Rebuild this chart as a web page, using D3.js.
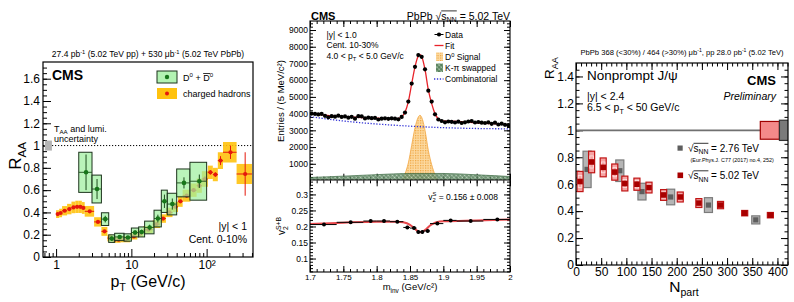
<!DOCTYPE html>
<html>
<head>
<meta charset="utf-8">
<script src="https://cdn.jsdelivr.net/npm/d3@7"></script>
<style>
body { margin: 0; background: #fff; }
</style>
</head>
<body>
<svg id="fig" width="794" height="302"></svg>
<script>
var FONT = '"Liberation Sans", Arial, Helvetica, sans-serif';

// ---- left panel: RAA vs pT, charged hadrons
var chLo = [1.0, 1.1, 1.2, 1.4, 1.6, 1.8, 2.0, 2.2, 2.4, 3.2, 4.0, 4.8, 5.6, 6.4, 7.2, 9.6, 12.0, 14.4, 19.2, 24.0, 28.8, 35.2, 41.6, 48.0, 60.8, 73.6, 86.4, 103.6, 120.8, 140.8, 165.0, 250.0];
var chHi = [1.1, 1.2, 1.4, 1.6, 1.8, 2.0, 2.2, 2.4, 3.2, 4.0, 4.8, 5.6, 6.4, 7.2, 9.6, 12.0, 14.4, 19.2, 24.0, 28.8, 35.2, 41.6, 48.0, 60.8, 73.6, 86.4, 103.6, 120.8, 140.8, 165.0, 250.0, 400.0];
var chPt = [1.05, 1.15, 1.3, 1.5, 1.7, 1.9, 2.1, 2.3, 2.8, 3.6, 4.4, 5.2, 6.0, 6.8, 8.4, 10.8, 13.2, 16.8, 21.6, 26.4, 32.0, 38.4, 44.8, 54.4, 67.2, 80.0, 95.0, 112.2, 130.8, 152.9, 207.5, 325.0];
var chRaa = [0.385, 0.395, 0.415, 0.43, 0.445, 0.45, 0.45, 0.44, 0.41, 0.315, 0.23, 0.17, 0.155, 0.155, 0.16, 0.185, 0.21, 0.245, 0.295, 0.345, 0.40, 0.45, 0.50, 0.55, 0.60, 0.64, 0.70, 0.76, 0.74, 0.865, 0.94, 0.745];
var chStat = [0.003, 0.003, 0.003, 0.003, 0.003, 0.003, 0.003, 0.004, 0.004, 0.004, 0.004, 0.004, 0.004, 0.004, 0.004, 0.005, 0.005, 0.006, 0.007, 0.008, 0.01, 0.012, 0.014, 0.016, 0.018, 0.02, 0.025, 0.02, 0.02, 0.04, 0.06, 0.195];
var chSys = [0.035, 0.038, 0.042, 0.047, 0.052, 0.055, 0.055, 0.053, 0.048, 0.042, 0.04, 0.03, 0.028, 0.028, 0.028, 0.028, 0.03, 0.032, 0.035, 0.038, 0.042, 0.046, 0.05, 0.054, 0.06, 0.064, 0.07, 0.06, 0.06, 0.075, 0.092, 0.09];

// D0 mesons
var dLo = [2, 3, 4, 5, 6, 8, 10, 12.5, 15, 20, 25, 30, 40, 60];
var dHi = [3, 4, 5, 6, 8, 10, 12.5, 15, 20, 25, 30, 40, 60, 100];
var dPt = [2.5, 3.5, 4.5, 5.5, 7, 9, 11.2, 13.7, 17.5, 22.5, 27.5, 35, 50, 80];
var dRaa = [0.76, 0.61, 0.34, 0.165, 0.18, 0.175, 0.22, 0.225, 0.265, 0.345, 0.50, 0.475, 0.665, 0.68];
var dStat = [0.16, 0.09, 0.03, 0.02, 0.015, 0.015, 0.02, 0.02, 0.025, 0.035, 0.06, 0.05, 0.05, 0.06];
var dSys = [0.18, 0.125, 0.057, 0.034, 0.033, 0.033, 0.04, 0.045, 0.057, 0.075, 0.10, 0.097, 0.125, 0.17];
var taaBox = [0.71, 0.88, 0.045];   // pT from, pT to, half height

var leftYTicks = [0, 0.2, 0.4, 0.6, 0.8, 1, 1.2, 1.4, 1.6];
var leftXTicks = [1, 10, 100];
var leftXLabels = ['1', '10', '10\u00b2'];

// ---- middle panel: D0 invariant mass fit and v2
var massBins = d3.range(1.7025, 2.0, 0.005);
var entries = [4000, 3980, 3950, 3980, 3870, 3780, 3850, 3820, 3880, 3800,
               3830, 3760, 3810, 3700, 3850, 3840, 3710, 3760, 3730, 3740,
               3650, 3700, 3720, 3690, 3720, 3700, 3660, 3800, 4060, 4720,
               5800, 6800, 7500, 7400, 6650, 5370, 4720, 3960, 3650, 3560,
               3480, 3530, 3510, 3470, 3520, 3440, 3480, 3530, 3560, 3470,
               3500, 3460, 3440, 3480, 3390, 3460, 3350, 3400, 3330, 3310];
var fitMass = [1.70, 1.75, 1.80, 1.82, 1.83, 1.8375, 1.8425, 1.8475, 1.8525, 1.8575, 1.8625, 1.865, 1.8675, 1.8725, 1.8775, 1.8825, 1.8875, 1.8925, 1.8975, 1.92, 1.95, 1.975, 2.00];
var fitVal = [4000, 3820, 3730, 3700, 3700, 3820, 4080, 4720, 5780, 6800, 7450, 7520, 7420, 6640, 5420, 4600, 4000, 3680, 3570, 3540, 3450, 3400, 3330];
var sigMass = [1.835, 1.84, 1.8425, 1.8475, 1.8525, 1.8575, 1.8625, 1.865, 1.8675, 1.8725, 1.8775, 1.8825, 1.8875, 1.8925, 1.895];
var sigVal = [0, 150, 400, 1050, 2100, 3150, 3800, 3900, 3780, 3000, 1800, 950, 350, 30, 0];
var bkgMass = [1.70, 1.75, 1.80, 1.85, 1.90, 1.95, 2.00];
var combVal = [3820, 3560, 3380, 3250, 3160, 3110, 3090];
var swapVal = [180, 260, 350, 420, 420, 340, 240];

var v2Lo = [1.70, 1.74, 1.78, 1.80, 1.82, 1.84, 1.85, 1.86, 1.865, 1.87, 1.88, 1.90, 1.92, 1.96];
var v2Hi = [1.74, 1.78, 1.80, 1.82, 1.84, 1.85, 1.86, 1.865, 1.87, 1.88, 1.90, 1.92, 1.96, 2.00];
var v2Mass = [1.721, 1.761, 1.791, 1.811, 1.831, 1.846, 1.856, 1.8625, 1.8685, 1.8765, 1.891, 1.911, 1.941, 1.981];
var v2Val = [0.206, 0.213, 0.217, 0.217, 0.215, 0.197, 0.195, 0.183, 0.183, 0.186, 0.209, 0.219, 0.217, 0.222];
var v2Err = [0.003, 0.003, 0.004, 0.004, 0.004, 0.005, 0.005, 0.006, 0.006, 0.005, 0.004, 0.004, 0.003, 0.003];
var v2FitMass = [1.70, 1.75, 1.80, 1.83, 1.84, 1.85, 1.855, 1.86, 1.865, 1.87, 1.875, 1.88, 1.885, 1.89, 1.90, 1.95, 2.00];
var v2FitVal = [0.208, 0.212, 0.215, 0.215, 0.213, 0.205, 0.197, 0.188, 0.182, 0.185, 0.193, 0.203, 0.209, 0.213, 0.216, 0.219, 0.222];

// ---- right panel: nonprompt J/psi RAA vs Npart
var np502 = [8, 31, 54, 77, 97, 121, 145, 174, 207, 244, 287, 335, 386];
var raa502 = [0.62, 0.765, 0.725, 0.69, 0.605, 0.60, 0.575, 0.52, 0.505, 0.46, 0.445, 0.385, 0.37];
var sys502 = [0.075, 0.08, 0.07, 0.06, 0.055, 0.045, 0.04, 0.04, 0.037, 0.033, 0.027, 0.02, 0.02];
var stat502 = [0.045, 0.045, 0.04, 0.035, 0.03, 0.028, 0.024, 0.022, 0.02, 0.018, 0.014, 0.011, 0.011];
var np276 = [22, 87, 131, 188, 263, 357];
var raa276 = [0.71, 0.70, 0.545, 0.505, 0.445, 0.335];
var sys276 = [0.135, 0.08, 0.062, 0.058, 0.055, 0.03];
var globalUnc = [0.066, 0.075];   // 5.02 TeV, 2.76 TeV

var svg = d3.select('#fig');
var defs = svg.append('defs');

function clip(id, x, y, w, h) {
    defs.append('clipPath').attr('id', id)
        .append('rect').attr('x', x).attr('y', y).attr('width', w).attr('height', h);
}

function addAxis(parent, orient, scale, majors, minors, len, fmt, size, pad, tx, ty) {
    var make = {left: d3.axisLeft, right: d3.axisRight, top: d3.axisTop, bottom: d3.axisBottom}[orient];
    var g = parent.append('g').attr('transform', 'translate(' + tx + ',' + ty + ')');
    g.append('g').call(make(scale).tickValues(minors).tickSizeInner(-len / 2).tickSizeOuter(0).tickFormat(''));
    g.append('g').call(make(scale).tickValues(majors).tickSizeInner(-len).tickSizeOuter(0)
        .tickPadding(pad || 3).tickFormat(fmt || ''));
    g.selectAll('.domain').remove();
    g.selectAll('line').attr('stroke', '#000');
    g.selectAll('text').attr('font-family', FONT).attr('font-size', size).attr('fill', '#000');
    return g;
}

function rich(parent, x, y, size, parts, anchor) {
    var t = parent.append('text').attr('x', x).attr('y', y)
        .attr('font-family', FONT).attr('font-size', size)
        .attr('text-anchor', anchor || 'start').attr('fill', '#000');
    var shift = 0;
    parts.forEach(function (p) {
        var s = typeof p === 'string' ? {t: p} : p;
        var off = s.sup ? -0.4 * size : s.sub ? 0.28 * size : 0;
        var sp = t.append('tspan').attr('dy', off - shift).text(s.t);
        if (s.sup || s.sub) sp.attr('font-size', size * 0.68);
        if (s.dx) sp.attr('dx', s.dx);
        if (s.cls) sp.attr('class', s.cls);
        shift = off;
    });
    return t;
}

function overline(parent, t, c1, c2, y) {
    var a = t.select('.' + c1).node().getBBox(),
        b = t.select('.' + c2).node().getBBox();
    parent.append('line').attr('x1', a.x).attr('x2', b.x + b.width)
        .attr('y1', y).attr('y2', y).attr('stroke', '#000').attr('stroke-width', 0.8);
}

function fmtR(d) {
    return d === 0 ? '0' : d === 1 ? '1' : d3.format('.1f')(d);
}

// ================= LEFT PANEL =================
var L = svg.append('g');
var xl = d3.scaleLog().domain([0.67, 413]).range([43, 253]);
var yl = d3.scaleLinear().domain([0, 1.75]).range([257, 62]);
clip('clipL', 43, 62, 210, 195);

var lMinX = [0.7, 0.8, 0.9].concat(d3.range(2, 10), d3.range(20, 100, 10), [200, 300, 400]);
addAxis(L, 'bottom', xl, leftXTicks, lMinX, 8, function (d, i) { return leftXLabels[i]; }, 12, 3, 0, 257);
addAxis(L, 'left', yl, leftYTicks, d3.range(0, 1.75, 0.05), 8, fmtR, 12, 3, 43, 0);

var LP = L.append('g').attr('clip-path', 'url(#clipL)');

// unity line
LP.append('line').attr('x1', 43).attr('x2', 253).attr('y1', yl(1)).attr('y2', yl(1))
    .attr('stroke', '#000').attr('stroke-width', 1).attr('stroke-dasharray', '1.2,1.8');

// T_AA + lumi box
LP.append('rect').attr('x', xl(taaBox[0])).attr('width', xl(taaBox[1]) - xl(taaBox[0]))
    .attr('y', yl(1 + taaBox[2])).attr('height', yl(1 - taaBox[2]) - yl(1 + taaBox[2]))
    .attr('fill', '#b4b4b4');

// charged hadron boxes
chRaa.forEach(function (r, i) {
    LP.append('rect').attr('x', xl(chLo[i])).attr('width', xl(chHi[i]) - xl(chLo[i]))
        .attr('y', yl(r + chSys[i])).attr('height', yl(r - chSys[i]) - yl(r + chSys[i]))
        .attr('fill', '#ffc20e').attr('opacity', 0.9);
});
// charged hadron points
chRaa.forEach(function (r, i) {
    LP.append('line').attr('x1', xl(chLo[i])).attr('x2', xl(chHi[i]))
        .attr('y1', yl(r)).attr('y2', yl(r)).attr('stroke', '#e5180c').attr('stroke-width', 1);
    LP.append('line').attr('x1', xl(chPt[i])).attr('x2', xl(chPt[i]))
        .attr('y1', yl(r + chStat[i])).attr('y2', yl(r - chStat[i])).attr('stroke', '#e5180c').attr('stroke-width', 1);
    LP.append('circle').attr('cx', xl(chPt[i])).attr('cy', yl(r)).attr('r', 2.1).attr('fill', '#e5180c');
});
// D0 boxes
dRaa.forEach(function (r, i) {
    LP.append('rect').attr('x', xl(dLo[i])).attr('width', xl(dHi[i]) - xl(dLo[i]))
        .attr('y', yl(r + dSys[i])).attr('height', yl(r - dSys[i]) - yl(r + dSys[i]))
        .attr('fill', 'rgba(160,240,160,0.72)').attr('stroke', '#1c331c').attr('stroke-width', 1);
});
dRaa.forEach(function (r, i) {
    LP.append('line').attr('x1', xl(dLo[i])).attr('x2', xl(dHi[i]))
        .attr('y1', yl(r)).attr('y2', yl(r)).attr('stroke', '#1d4d1d').attr('stroke-width', 0.9);
    LP.append('line').attr('x1', xl(dPt[i])).attr('x2', xl(dPt[i]))
        .attr('y1', yl(r + dStat[i])).attr('y2', yl(r - dStat[i])).attr('stroke', '#1d4d1d').attr('stroke-width', 1);
    LP.append('circle').attr('cx', xl(dPt[i])).attr('cy', yl(r)).attr('r', 2.3).attr('fill', '#17761a');
});

L.append('rect').attr('x', 43).attr('y', 62).attr('width', 210).attr('height', 195)
    .attr('fill', 'none').attr('stroke', '#000').attr('stroke-width', 1.2);

rich(L, 148, 57, 8.5, ['27.4 pb', {t: '-1', sup: 1}, ' (5.02 TeV pp) + 530 \u03bcb', {t: '-1', sup: 1}, ' (5.02 TeV PbPb)'], 'middle');
L.append('text').attr('x', 52).attr('y', 80).attr('font-family', FONT).attr('font-size', 14)
    .attr('font-weight', 'bold').text('CMS');

// legend
L.append('rect').attr('x', 157).attr('y', 71).attr('width', 20).attr('height', 12)
    .attr('fill', 'rgba(160,240,160,0.8)').attr('stroke', '#1c331c');
L.append('circle').attr('cx', 167).attr('cy', 77).attr('r', 2.2).attr('fill', '#17761a');
var dLeg = rich(L, 183, 80.5, 9, [{t: 'D', cls: 'd1'}, {t: '0', sup: 1}, ' + ', {t: 'D', cls: 'd2'}, {t: '0', sup: 1}]);
overline(L, dLeg, 'd2', 'd2', 73.5);
L.append('rect').attr('x', 157).attr('y', 88).attr('width', 20).attr('height', 11).attr('fill', '#ffc20e');
L.append('circle').attr('cx', 167).attr('cy', 93.5).attr('r', 2).attr('fill', '#e5180c');
rich(L, 183, 97, 9, ['charged hadrons']);

rich(L, 54, 131.5, 9, ['T', {t: 'AA', sub: 1}, ' and lumi.']);
rich(L, 54, 142, 9, ['uncertainty']);
rich(L, 247, 230, 10.5, ['|y| < 1'], 'end');
rich(L, 247, 243, 10.5, ['Cent. 0-10%'], 'end');

rich(L, 148, 287, 16, ['p', {t: 'T', sub: 1}, ' (GeV/c)'], 'middle');
var rl = L.append('g').attr('transform', 'translate(21,156) rotate(-90)');
rich(rl, 0, 0, 17, ['R', {t: 'AA', sub: 1}], 'middle');

// ================= MIDDLE PANEL =================
var M = svg.append('g');
var xm = d3.scaleLinear().domain([1.7, 2.0]).range([310, 510]);
var ym = d3.scaleLinear().domain([0, 9540]).range([180.5, 21]);
var yv = d3.scaleLinear().domain([0.058, 0.345]).range([272, 180]);
clip('clipMU', 310, 21, 200, 159);
clip('clipMD', 310, 180, 200, 92);

var sp = defs.append('pattern').attr('id', 'sigPat').attr('width', 2.5).attr('height', 2.5)
    .attr('patternUnits', 'userSpaceOnUse');
sp.append('rect').attr('width', 2.5).attr('height', 2.5).attr('fill', '#fcd9a0');
sp.append('rect').attr('width', 1.2).attr('height', 1.2).attr('fill', '#efa43c');
var wp = defs.append('pattern').attr('id', 'swPat').attr('width', 3).attr('height', 3)
    .attr('patternUnits', 'userSpaceOnUse').attr('patternTransform', 'rotate(45)');
wp.append('rect').attr('width', 3).attr('height', 3).attr('fill', '#b9d0b9');
wp.append('line').attr('x1', 0).attr('x2', 3).attr('y1', 1).attr('y2', 1).attr('stroke', '#2c5e34').attr('stroke-width', 1);
wp.append('line').attr('x1', 1).attr('x2', 1).attr('y1', 0).attr('y2', 3).attr('stroke', '#2c5e34').attr('stroke-width', 0.8);

var mTicks = [1.7, 1.75, 1.8, 1.85, 1.9, 1.95, 2.0];
var mMinor = d3.range(1.7, 2.0001, 0.01);
var fmtM = d3.format('~g');
addAxis(M, 'bottom', xm, mTicks, mMinor, 6, fmtM, 8, 2, 0, 272);
addAxis(M, 'top', xm, mTicks, mMinor, 6, null, 8, 3, 0, 180.3);
addAxis(M, 'bottom', xm, mTicks, mMinor, 6, null, 8, 3, 0, 179.7);
addAxis(M, 'top', xm, mTicks, mMinor, 6, null, 8, 3, 0, 21);
addAxis(M, 'left', ym, d3.range(1000, 9001, 1000), d3.range(200, 9540, 200), 6, d3.format('d'), 8.5, 2, 310, 0);
addAxis(M, 'right', ym, d3.range(1000, 9001, 1000), d3.range(200, 9540, 200), 6, null, 8, 3, 510, 0);
addAxis(M, 'left', yv, [0.1, 0.15, 0.2, 0.25, 0.3], d3.range(0.06, 0.345, 0.01), 6, d3.format('~g'), 8.5, 2, 310, 0);
addAxis(M, 'right', yv, [0.1, 0.15, 0.2, 0.25, 0.3], d3.range(0.06, 0.345, 0.01), 6, null, 8, 3, 510, 0);

var MU = M.append('g').attr('clip-path', 'url(#clipMU)');
var MD = M.append('g').attr('clip-path', 'url(#clipMD)');

var areaSig = d3.area().x(function (d) { return xm(d[0]); }).y0(ym(0)).y1(function (d) { return ym(d[1]); })
    .curve(d3.curveMonotoneX);
MU.append('path').datum(d3.zip(sigMass, sigVal)).attr('d', areaSig)
    .attr('fill', 'url(#sigPat)').attr('stroke', '#f2a640').attr('stroke-width', 0.8);
MU.append('path').datum(d3.zip(bkgMass, swapVal)).attr('d', areaSig)
    .attr('fill', 'url(#swPat)').attr('opacity', 0.85).attr('stroke', '#2c5e34').attr('stroke-width', 0.8);

var lineM = d3.line().x(function (d) { return xm(d[0]); }).y(function (d) { return ym(d[1]); })
    .curve(d3.curveMonotoneX);
MU.append('path').datum(d3.zip(bkgMass, combVal)).attr('d', lineM).attr('fill', 'none')
    .attr('stroke', '#3636d6').attr('stroke-width', 1.3).attr('stroke-dasharray', '1.3,1.6');
MU.append('path').datum(d3.zip(fitMass, fitVal)).attr('d', lineM).attr('fill', 'none')
    .attr('stroke', '#e8232a').attr('stroke-width', 1.3);
entries.forEach(function (v, i) {
    var e = Math.sqrt(v);
    MU.append('line').attr('x1', xm(massBins[i])).attr('x2', xm(massBins[i]))
        .attr('y1', ym(v + e)).attr('y2', ym(v - e)).attr('stroke', '#000');
    MU.append('circle').attr('cx', xm(massBins[i])).attr('cy', ym(v)).attr('r', 2.1).attr('fill', '#000');
});

var lineV = d3.line().x(function (d) { return xm(d[0]); }).y(function (d) { return yv(d[1]); })
    .curve(d3.curveMonotoneX);
MD.append('path').datum(d3.zip(v2FitMass, v2FitVal)).attr('d', lineV).attr('fill', 'none')
    .attr('stroke', '#e8484c').attr('stroke-width', 2);
v2Val.forEach(function (v, i) {
    MD.append('line').attr('x1', xm(v2Lo[i])).attr('x2', xm(v2Hi[i]))
        .attr('y1', yv(v)).attr('y2', yv(v)).attr('stroke', '#000').attr('stroke-width', 1);
    MD.append('line').attr('x1', xm(v2Mass[i])).attr('x2', xm(v2Mass[i]))
        .attr('y1', yv(v + v2Err[i])).attr('y2', yv(v - v2Err[i])).attr('stroke', '#000');
    MD.append('circle').attr('cx', xm(v2Mass[i])).attr('cy', yv(v)).attr('r', 2).attr('fill', '#000');
});

M.append('rect').attr('x', 310).attr('y', 21).attr('width', 200).attr('height', 251)
    .attr('fill', 'none').attr('stroke', '#000').attr('stroke-width', 1.1);
M.append('line').attr('x1', 310).attr('x2', 510).attr('y1', 180).attr('y2', 180)
    .attr('stroke', '#000').attr('stroke-width', 1.1);

M.append('text').attr('x', 311).attr('y', 19.5).attr('font-family', FONT).attr('font-size', 11)
    .attr('font-weight', 'bold').text('CMS');
var sTop = rich(M, 510, 19.5, 10.5, ['PbPb ', {t: '\u221a', cls: 'rt'}, {t: 's', cls: 's1'}, {t: 'NN', sub: 1, cls: 's2'}, ' = 5.02 TeV'], 'end');
overline(M, sTop, 's1', 's2', 19.5 - 8.6);

rich(M, 326.5, 37.5, 8.5, ['|y| < 1.0']);
rich(M, 326.5, 48, 8.5, ['Cent. 10-30%']);
rich(M, 326.5, 58.5, 8.5, ['4.0 < p', {t: 'T', sub: 1}, ' < 5.0 GeV/c']);

// legend
M.append('line').attr('x1', 434.5).attr('x2', 443.5).attr('y1', 34.5).attr('y2', 34.5).attr('stroke', '#000');
M.append('circle').attr('cx', 439).attr('cy', 34.5).attr('r', 2.1).attr('fill', '#000');
rich(M, 445, 37.5, 8.5, ['Data']);
M.append('line').attr('x1', 434.5).attr('x2', 443.5).attr('y1', 45.5).attr('y2', 45.5)
    .attr('stroke', '#e8232a').attr('stroke-width', 1.3);
rich(M, 445, 48.5, 8.5, ['Fit']);
M.append('rect').attr('x', 436).attr('y', 52.5).attr('width', 7).attr('height', 8.5).attr('fill', 'url(#sigPat)');
rich(M, 445, 60, 8.5, ['D', {t: '0', sup: 1}, ' Signal']);
M.append('rect').attr('x', 436).attr('y', 63.5).attr('width', 7).attr('height', 8.5).attr('fill', 'url(#swPat)');
rich(M, 445, 71.2, 8.5, ['K-\u03c0 swapped']);
M.append('line').attr('x1', 434).attr('x2', 443.5).attr('y1', 79).attr('y2', 79)
    .attr('stroke', '#3636d6').attr('stroke-width', 1.3).attr('stroke-dasharray', '1.3,1.6');
rich(M, 445, 82, 8.5, ['Combinatorial']);

rich(M, 498, 199.5, 8.5, ['v', {t: '2', sub: 1}, {t: 'S', sup: 1, dx: -3.3}, ' = 0.156 \u00b1 0.008'], 'end');

rich(M, 410, 290, 9.5, ['m', {t: 'inv', sub: 1}, ' (GeV/c\u00b2)'], 'middle');
var ml = M.append('g').attr('transform', 'translate(284,101) rotate(-90)');
rich(ml, 0, 0, 9.5, ['Entries / (5 MeV/c\u00b2)'], 'middle');
var vl = M.append('g').attr('transform', 'translate(285,226) rotate(-90)');
rich(vl, 0, 0, 10, ['v', {t: '2', sub: 1}, {t: 'S+B', sup: 1, dx: -3.8}], 'middle');

// ================= RIGHT PANEL =================
var R = svg.append('g');
var xr = d3.scaleLinear().domain([0, 421]).range([576, 788]);
var yr = d3.scaleLinear().domain([0, 1.5]).range([265, 63]);
clip('clipR', 576, 63, 212, 202);

var rX = d3.range(0, 401, 50), rXm = d3.range(0, 421, 10);
var rY = [0, 0.2, 0.4, 0.6, 0.8, 1, 1.2, 1.4], rYm = d3.range(0, 1.5, 0.05);
addAxis(R, 'bottom', xr, rX, rXm, 7, d3.format('d'), 12, 2, 0, 265);
addAxis(R, 'top', xr, rX, rXm, 7, null, 12, 3, 0, 63);
addAxis(R, 'left', yr, rY, rYm, 7, fmtR, 12, 2, 576, 0);
addAxis(R, 'right', yr, rY, rYm, 7, null, 12, 3, 788, 0);

var RP = R.append('g').attr('clip-path', 'url(#clipR)');
RP.append('line').attr('x1', 576).attr('x2', 788).attr('y1', yr(1)).attr('y2', yr(1))
    .attr('stroke', '#707070').attr('stroke-width', 1.6);
// global uncertainties
RP.append('rect').attr('x', xr(366)).attr('width', xr(404) - xr(366))
    .attr('y', yr(1 + globalUnc[0])).attr('height', yr(1 - globalUnc[0]) - yr(1 + globalUnc[0]))
    .attr('fill', '#f48a8a').attr('stroke', '#a00000').attr('stroke-width', 1.2);
RP.append('rect').attr('x', xr(404)).attr('width', xr(426) - xr(404))
    .attr('y', yr(1 + globalUnc[1])).attr('height', yr(1 - globalUnc[1]) - yr(1 + globalUnc[1]))
    .attr('fill', '#7a7a7a').attr('stroke', '#333').attr('stroke-width', 1.2);

// 2.76 TeV
raa276.forEach(function (r, i) {
    RP.append('rect').attr('x', xr(np276[i] - 8)).attr('width', xr(16) - xr(0))
        .attr('y', yr(r + sys276[i])).attr('height', yr(r - sys276[i]) - yr(r + sys276[i]))
        .attr('fill', '#b5b5b5').attr('stroke', '#7b7b7b').attr('stroke-width', 1.2);
    RP.append('rect').attr('x', xr(np276[i]) - 2.6).attr('y', yr(r) - 2.6).attr('width', 5.2).attr('height', 5.2)
        .attr('fill', '#5e5e5e');
});
// 5.02 TeV
raa502.forEach(function (r, i) {
    RP.append('rect').attr('x', xr(np502[i] - 6)).attr('width', xr(12) - xr(0))
        .attr('y', yr(r + sys502[i])).attr('height', yr(r - sys502[i]) - yr(r + sys502[i]))
        .attr('fill', '#f6a3a3').attr('stroke', '#c01515').attr('stroke-width', 1.2);
    RP.append('rect').attr('x', xr(np502[i] - 3.5)).attr('width', xr(7) - xr(0))
        .attr('y', yr(r + stat502[i])).attr('height', yr(r - stat502[i]) - yr(r + stat502[i]))
        .attr('fill', 'none').attr('stroke', '#fde2e2').attr('stroke-width', 0.8);
    RP.append('rect').attr('x', xr(np502[i]) - 2.8).attr('y', yr(r) - 2.8).attr('width', 5.6).attr('height', 5.6)
        .attr('fill', '#a80000');
});

R.append('rect').attr('x', 576).attr('y', 63).attr('width', 212).attr('height', 202)
    .attr('fill', 'none').attr('stroke', '#000').attr('stroke-width', 1.2);

rich(R, 682, 55, 7.6, ['PbPb 368 (<30%) / 464 (>30%) \u03bcb', {t: '-1', sup: 1}, ', pp 28.0 pb', {t: '-1', sup: 1}, ' (5.02 TeV)'], 'middle');
rich(R, 587, 80, 13.5, ['Nonprompt J/\u03c8']);
rich(R, 587, 99.5, 10.5, ['|y| < 2.4']);
rich(R, 587, 111, 10.5, ['6.5 < p', {t: 'T', sub: 1}, ' < 50 GeV/c']);
R.append('text').attr('x', 776).attr('y', 85).attr('font-family', FONT).attr('font-size', 13)
    .attr('font-weight', 'bold').attr('text-anchor', 'end').text('CMS');
R.append('text').attr('x', 776).attr('y', 99.5).attr('font-family', FONT).attr('font-size', 10.5)
    .attr('font-style', 'italic').attr('text-anchor', 'end').text('Preliminary');

// legend
R.append('rect').attr('x', 677.5).attr('y', 145.5).attr('width', 5.2).attr('height', 5.2).attr('fill', '#5e5e5e');
var s276 = rich(R, 688, 151.5, 10, [{t: '\u221a', cls: 'rt'}, {t: 's', cls: 's1'}, {t: 'NN', sub: 1, cls: 's2'}, ' = 2.76 TeV']);
overline(R, s276, 's1', 's2', 151.5 - 8.2);
rich(R, 690.5, 161.5, 5.4, ['(Eur.Phys.J. C77 (2017) no.4, 252)']);
R.append('rect').attr('x', 677.5).attr('y', 172.5).attr('width', 5.6).attr('height', 5.6).attr('fill', '#a80000');
var s502 = rich(R, 688, 179, 10, [{t: '\u221a', cls: 's0'}, {t: 's', cls: 's1'}, {t: 'NN', sub: 1, cls: 's2'}, ' = 5.02 TeV']);
overline(R, s502, 's1', 's2', 179 - 8.2);

rich(R, 684, 292, 15.5, ['N', {t: 'part', sub: 1}], 'middle');
var rr = R.append('g').attr('transform', 'translate(554,57) rotate(-90)');
rich(rr, 0, 0, 13.5, ['R', {t: 'AA', sub: 1}], 'end');
</script>
</body>
</html>
